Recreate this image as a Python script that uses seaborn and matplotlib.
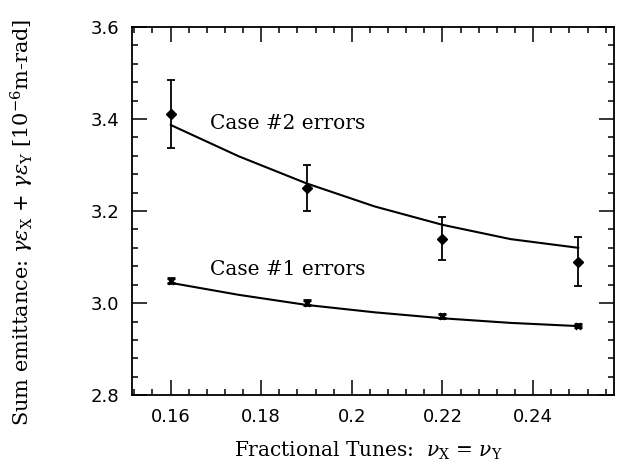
import numpy as np
import pandas as pd
import matplotlib
matplotlib.use('Agg')
import matplotlib.pyplot as plt
import seaborn as sns
from matplotlib.ticker import MultipleLocator

# measured points
tunes = [0.16, 0.19, 0.22, 0.25]
case2 = [3.41, 3.25, 3.14, 3.09]
case2_err = [0.074, 0.049, 0.046, 0.053]
case1 = [3.049, 3.001, 2.972, 2.951]
case1_err = [0.005, 0.005, 0.005, 0.004]

# fitted curves
fit_x = [0.16, 0.175, 0.19, 0.205, 0.22, 0.235, 0.25]
fit2 = [3.387, 3.319, 3.260, 3.210, 3.170, 3.139, 3.120]
fit1 = [3.044, 3.018, 2.996, 2.980, 2.967, 2.957, 2.950]

sns.set_style('ticks', rc={'text.color': 'black', 'axes.labelcolor': 'black',
                           'xtick.color': 'black', 'ytick.color': 'black',
                           'axes.edgecolor': 'black'})
plt.rcParams['font.family'] = ['DejaVu Serif']
plt.rcParams['mathtext.fontset'] = 'dejavuserif'

fig = plt.figure(figsize=(6.2, 4.71), dpi=100)
ax = fig.add_axes([0.213, 0.161, 0.777, 0.782])

df_fit = pd.DataFrame({'x': fit_x + fit_x,
                       'y': fit2 + fit1,
                       'case': ['2'] * len(fit_x) + ['1'] * len(fit_x)})
sns.lineplot(data=df_fit, x='x', y='y', units='case', estimator=None,
             color='black', lw=1.5, ax=ax, legend=False)

ax.errorbar(tunes, case2, yerr=case2_err, fmt='D', ms=5, color='black',
            ecolor='black', elinewidth=1.3, capsize=3, capthick=1.3)
ax.errorbar(tunes, case1, yerr=case1_err, fmt='x', ms=5, mew=2, color='black',
            ecolor='black', elinewidth=1.3, capsize=3, capthick=1.5)

ax.text(0.1686, 3.391, 'Case #2 errors', fontsize=14.5, va='center', ha='left')
ax.text(0.1686, 3.074, 'Case #1 errors', fontsize=14.5, va='center', ha='left')

ax.set_xlim(0.1515, 0.2578)
ax.set_ylim(2.8, 3.6)
ax.xaxis.set_minor_locator(MultipleLocator(0.004))
ax.yaxis.set_minor_locator(MultipleLocator(0.04))
ax.set_xticks([0.16, 0.18, 0.2, 0.22, 0.24])
ax.set_xticklabels(['0.16', '0.18', '0.2', '0.22', '0.24'])
ax.set_yticks([2.8, 3.0, 3.2, 3.4, 3.6])
ax.set_yticklabels(['2.8', '3.0', '3.2', '3.4', '3.6'])

ax.tick_params(which='both', direction='in', top=True, right=True, width=1.1)
ax.tick_params(which='major', length=11, pad=9)
ax.tick_params(which='minor', length=4)
for lab in ax.get_xticklabels() + ax.get_yticklabels():
    lab.set_family('DejaVu Sans')
    lab.set_fontsize(13)
for s in ax.spines.values():
    s.set_linewidth(1.3)

ax.set_xlabel(r'Fractional Tunes:  $\nu_{\rm X}$ = $\nu_{\rm Y}$', fontsize=14.5)
ax.xaxis.set_label_coords(0.49, -0.12)
ax.set_ylabel(r'Sum emittance: $\gamma\epsilon_{\rm X}$ + $\gamma\epsilon_{\rm Y}$ [10$^{-6}$m-rad]',
              fontsize=15)
ax.yaxis.set_label_coords(-0.20, 0.47)

fig.savefig('out.png', dpi=100)
